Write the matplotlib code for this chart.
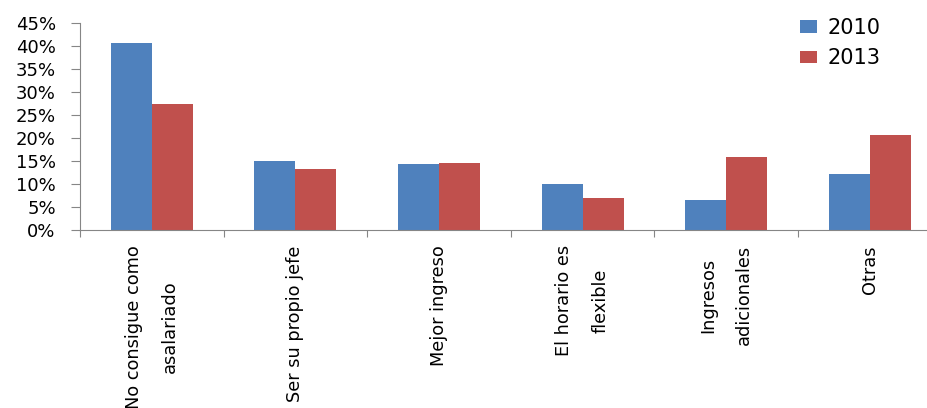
import matplotlib.pyplot as plt
import numpy as np
from matplotlib.ticker import FuncFormatter

categorias = ["No consigue como\nasalariado", "Ser su propio jefe", "Mejor ingreso",
              "El horario es\nflexible", "Ingresos\nadicionales", "Otras"]
v2010 = [0.407, 0.150, 0.144, 0.100, 0.065, 0.123]
v2013 = [0.274, 0.134, 0.146, 0.070, 0.158, 0.206]
anios = ["2010", "2013"]

azul = "#4F81BD"
rojo = "#C0504D"
gris = "#868686"

fig = plt.figure(figsize=(9.28, 4.08), dpi=100)
ax = fig.add_axes([80 / 928, 1 - 230 / 408, 861.6 / 928, 206.5 / 408])

x = np.arange(len(categorias))
w = 0.2857
ax.bar(x - w / 2, v2010, w, color=azul, label=anios[0])
ax.bar(x + w / 2, v2013, w, color=rojo, label=anios[1])

ax.set_xlim(-0.5, len(categorias) - 0.5)
ax.set_ylim(0, 0.45)
ax.set_yticks(np.arange(0, 0.451, 0.05))
ax.yaxis.set_major_formatter(FuncFormatter(lambda v, p: "%d%%" % round(v * 100)))

# ticks at category boundaries, labels at centers
ax.set_xticks(np.arange(-0.5, len(categorias), 1.0))
ax.set_xticklabels([])
ax.set_xticks(x, minor=True)
ax.set_xticklabels(categorias, minor=True, rotation=90, ha="center", va="top",
                   multialignment="center", linespacing=2.3, fontsize=12.8)
ax.tick_params(axis="x", which="minor", length=0, pad=11)
ax.tick_params(axis="x", which="major", length=5, color=gris)
ax.tick_params(axis="y", length=6.5, color=gris, labelsize=13, pad=11)

for s in ["top", "right"]:
    ax.spines[s].set_visible(False)
for s in ["left", "bottom"]:
    ax.spines[s].set_color(gris)

ax.legend(loc="upper left", bbox_to_anchor=(800 / 928, 1 - 18 / 408),
          bbox_transform=fig.transFigure, frameon=False, fontsize=15,
          handlelength=0.8, handleheight=0.55, handletextpad=0.5,
          labelspacing=0.5, borderaxespad=0, borderpad=0)

fig.savefig("out.png", dpi=100)
